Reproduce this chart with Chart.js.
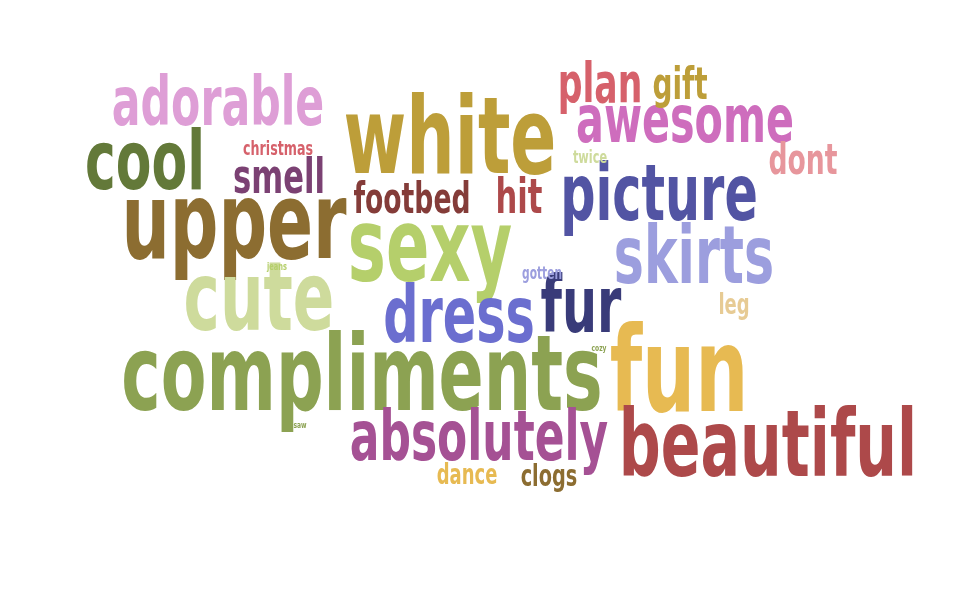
<!DOCTYPE html>
<html>
<head>
<meta charset="utf-8">
<script src="https://cdn.jsdelivr.net/npm/chart.js@4"></script>
<style>
  html, body { margin: 0; padding: 0; background: #fff; }
  #wrap { width: 960px; height: 600px; }
</style>
</head>
<body>
<div id="wrap"><canvas id="cloud"></canvas></div>
<script>
// words, their weight (font size) and place in the cloud
const words = ['compliments', 'fun', 'beautiful', 'upper', 'white', 'sexy', 'cute', 'picture',
  'skirts', 'dress', 'fur', 'absolutely', 'cool', 'adorable', 'awesome', 'plan', 'gift',
  'smell', 'footbed', 'hit', 'dont', 'christmas', 'twice', 'gotten', 'leg', 'dance',
  'clogs', 'jeans', 'cozy', 'saw'];
const weights = [100, 112, 88, 102, 102, 96, 92, 74, 76, 74, 74, 66, 78, 64, 62, 52, 42,
  46, 40, 46, 40, 19, 17, 16, 27, 27, 29, 10, 9, 9];
const wordX = [362, 679, 768, 234, 450, 430, 259, 659, 694, 459, 581, 479, 145, 218, 685, 600, 680,
  279, 412, 519, 803, 278, 590, 542, 734, 467, 549, 277, 599, 300];
const wordY = [383, 380, 452, 230, 145, 255, 305, 200, 262, 322, 312, 442, 168, 108, 125, 88, 88,
  180, 202, 200, 163, 150, 158, 275, 307, 477, 478, 267, 349, 426];
const colors = ['#8ca252', '#e7ba52', '#ad494a', '#8c6d31', '#bd9e39', '#b5cf6b', '#cedb9c', '#5254a3',
  '#9c9ede', '#6b6ecf', '#393b79', '#a55194', '#637939', '#de9ed6', '#ce6dbd', '#d6616b', '#bd9e39',
  '#7b4173', '#843c39', '#ad494a', '#e7969c', '#d6616b', '#cedb9c', '#9c9ede', '#e7cb94', '#e7ba52',
  '#8c6d31', '#b5cf6b', '#8ca252', '#8ca252'];

const wordPlugin = {
    id: 'wordPlugin',
    afterDatasetsDraw(chart) {
        const ctx = chart.ctx;
        const meta = chart.getDatasetMeta(0);
        ctx.save();
        ctx.textAlign = 'center';
        ctx.textBaseline = 'middle';
        meta.data.forEach(function (pt, i) {
            ctx.save();
            ctx.translate(pt.x, pt.y);
            // squeeze the condensed font to get the heavy narrow look
            ctx.scale(0.74, 1.05);
            ctx.font = 'bold ' + weights[i] + 'px "DejaVu Sans Condensed", "Liberation Sans Narrow", sans-serif';
            ctx.fillStyle = colors[i];
            ctx.fillText(words[i], 0, 0);
            ctx.restore();
        });
        ctx.restore();
    }
};

new Chart(document.getElementById('cloud').getContext('2d'), {
    type: 'scatter',
    data: {
        datasets: [{
            data: words.map((w, i) => ({x: wordX[i], y: wordY[i]})),
            pointRadius: 0,
            pointHoverRadius: 0
        }]
    },
    options: {
        responsive: true,
        maintainAspectRatio: false,
        animation: false,
        layout: {padding: 0},
        plugins: {legend: {display: false}, tooltip: {enabled: false}},
        scales: {
            x: {type: 'linear', min: 0, max: 960, display: false},
            y: {type: 'linear', min: 0, max: 600, reverse: true, display: false}
        }
    },
    plugins: [wordPlugin]
});
</script>
</body>
</html>
